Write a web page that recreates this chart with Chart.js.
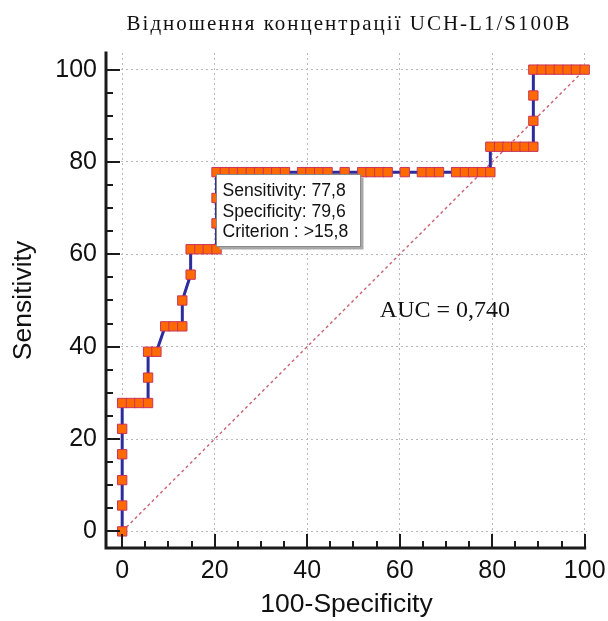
<!DOCTYPE html>
<html>
<head>
<meta charset="utf-8">
<script src="https://cdn.jsdelivr.net/npm/chart.js@4.4.1/dist/chart.umd.min.js"></script>
<style>
  html, body { margin: 0; padding: 0; background: #fff; }
</style>
</head>
<body>
<canvas id="chart" width="608" height="621"></canvas>
<script>
// ROC curve: 100-Specificity (x) and Sensitivity (y)
var specComplement = [0, 0, 0, 0, 0, 0,
  1.9, 3.7, 5.6, 5.6, 5.6, 7.4,
  9.3, 11.1, 13.0, 13.0, 14.8, 14.8, 16.7, 18.5, 20.4, 20.4, 20.4, 20.4,
  22.2, 24.1, 25.9, 27.8, 29.6, 31.5, 33.3, 35.2,
  38.9, 40.7, 42.6, 44.4,
  48.1,
  51.9, 53.7, 55.6, 57.4,
  61.1,
  64.8, 66.7, 68.5,
  72.2, 74.1, 75.9, 77.8, 79.6,
  79.6, 81.5, 83.3, 85.2, 87.0, 88.9,
  88.9, 88.9, 88.9, 90.7, 92.6, 94.4, 96.3, 98.1, 100];
var sensitivity = [0, 5.6, 11.1, 16.7, 22.2, 27.8,
  27.8, 27.8, 27.8, 33.3, 38.9, 38.9,
  44.4, 44.4, 44.4, 50.0, 55.6, 61.1, 61.1, 61.1, 61.1, 66.7, 72.2, 77.8,
  77.8, 77.8, 77.8, 77.8, 77.8, 77.8, 77.8, 77.8,
  77.8, 77.8, 77.8, 77.8,
  77.8,
  77.8, 77.8, 77.8, 77.8,
  77.8,
  77.8, 77.8, 77.8,
  77.8, 77.8, 77.8, 77.8, 77.8,
  83.3, 83.3, 83.3, 83.3, 83.3, 83.3,
  88.9, 94.4, 100, 100, 100, 100, 100, 100, 100];

// reference diagonal
var diagX = [0, 100];
var diagY = [0, 100];

var xTickValues = [0, 20, 40, 60, 80, 100];
var yTickValues = [0, 20, 40, 60, 80, 100];

var chartTitle = "Відношення концентрації UCH-L1/S100B";
var xTitle = "100-Specificity";
var yTitle = "Sensitivity";

// optimal criterion box
var cutoff = { x: 20.4, y: 77.8 };
var cutoffLines = ["Sensitivity: 77,8", "Specificity: 79,6", "Criterion : >15,8"];
var aucText = "AUC = 0,740";
var aucPos = { x: 55.7, y: 46.4 };

function toPoints(xs, ys) {
  return xs.map(function(v, i) { return { x: v, y: ys[i] }; });
}

var SANS = '"Liberation Sans", Arial, sans-serif';
var SERIF = '"Liberation Serif", "Times New Roman", serif';

var decor = {
  id: 'decor',
  beforeDraw: function(chart) {
    var ctx = chart.ctx;
    ctx.save();
    ctx.fillStyle = '#fff';
    ctx.fillRect(0, 0, chart.width, chart.height);
    ctx.restore();
  },
  afterDatasetsDraw: function(chart) {
    var ctx = chart.ctx, xs = chart.scales.x, ys = chart.scales.y;

    // criterion box
    var px = xs.getPixelForValue(cutoff.x), py = ys.getPixelForValue(cutoff.y);
    var left = Math.round(px) - 0.5, top = Math.round(py) + 2.5, w = 144, h = 72;
    ctx.save();
    ctx.fillStyle = '#a8a8a8';
    ctx.fillRect(left + 3, top + 3, w, h);
    ctx.fillStyle = '#fff';
    ctx.fillRect(left, top, w, h);
    ctx.strokeStyle = '#8a8a8a';
    ctx.lineWidth = 1;
    ctx.strokeRect(left, top, w, h);
    ctx.fillStyle = '#111';
    ctx.font = '17.6px ' + SANS;
    ctx.textBaseline = 'alphabetic';
    cutoffLines.forEach(function(t, i) {
      ctx.fillText(t, left + 6, top + 21.5 + i * 20.5);
    });

    // AUC
    ctx.font = '24px ' + SERIF;
    ctx.fillText(aucText, xs.getPixelForValue(aucPos.x), ys.getPixelForValue(aucPos.y));
    ctx.restore();
  },
  afterDraw: function(chart) {
    var ctx = chart.ctx, xs = chart.scales.x, ys = chart.scales.y, a = chart.chartArea;
    ctx.save();
    ctx.strokeStyle = '#1b1b1b';

    // ticks, pointing into the plot
    ctx.lineWidth = 2;
    var v, p, len;
    for (v = 0; v <= 100; v += 5) {
      len = v % 20 === 0 ? 14 : 7;
      p = Math.round(xs.getPixelForValue(v));
      ctx.beginPath();
      ctx.moveTo(p, a.bottom);
      ctx.lineTo(p, a.bottom - len);
      ctx.stroke();
      p = Math.round(ys.getPixelForValue(v));
      ctx.beginPath();
      ctx.moveTo(a.left, p);
      ctx.lineTo(a.left + len, p);
      ctx.stroke();
    }

    // axis lines
    ctx.lineWidth = 3;
    ctx.lineCap = 'square';
    ctx.beginPath();
    ctx.moveTo(a.left, a.top);
    ctx.lineTo(a.left, a.bottom);
    ctx.lineTo(xs.getPixelForValue(100), a.bottom);
    ctx.stroke();

    // title
    ctx.fillStyle = '#111';
    ctx.font = '21px ' + SERIF;
    ctx.textAlign = 'center';
    ctx.letterSpacing = '2px';
    ctx.fillText(chartTitle, 349, 30);
    ctx.restore();
  }
};

var ctx = document.getElementById('chart').getContext('2d');
var chart = new Chart(ctx, {
  type: 'scatter',
  data: {
    datasets: [{
      label: 'ROC',
      data: toPoints(specComplement, sensitivity),
      showLine: true,
      clip: false,
      borderColor: '#2c2c9c',
      borderWidth: 3,
      pointStyle: 'rect',
      pointRadius: 6.6,
      pointBackgroundColor: '#ff6a00',
      pointBorderColor: '#c8345e',
      pointBorderWidth: 1,
      order: 1
    }, {
      label: 'diagonal',
      data: toPoints(diagX, diagY),
      showLine: true,
      borderColor: '#cc6070',
      borderWidth: 1.4,
      borderDash: [3, 3],
      pointRadius: 0,
      order: 2
    }]
  },
  options: {
    responsive: false,
    animation: false,
    layout: { padding: { top: 53, right: 21, bottom: 0, left: 0 } },
    plugins: {
      legend: { display: false },
      tooltip: { enabled: false },
      title: { display: false }
    },
    scales: {
      x: {
        type: 'linear',
        min: -3.5,
        max: 100.5,
        afterBuildTicks: function(s) { s.ticks = xTickValues.map(function(v) { return { value: v }; }); },
        afterFit: function(s) { s.height = 73; s.paddingLeft = 0; s.paddingRight = 0; },
        grid: { color: '#b8b8b8', lineWidth: 1, drawTicks: false },
        border: { display: false, dash: [2, 3] },
        ticks: { color: '#111', font: { family: SANS, size: 25 }, padding: 8 },
        title: { display: true, text: xTitle, color: '#111', font: { family: SANS, size: 26.5 }, padding: { top: 0, bottom: 0 } }
      },
      y: {
        type: 'linear',
        min: -3.6,
        max: 103.6,
        afterBuildTicks: function(s) { s.ticks = yTickValues.map(function(v) { return { value: v }; }); },
        afterFit: function(s) { s.width = 106; s.paddingTop = 0; s.paddingBottom = 0; },
        grid: { color: '#b8b8b8', lineWidth: 1, drawTicks: false },
        border: { display: false, dash: [2, 3] },
        ticks: { color: '#111', font: { family: SANS, size: 25 }, padding: 9 },
        title: { display: true, text: yTitle, color: '#111', font: { family: SANS, size: 26.5 }, padding: { top: 8, bottom: 0 } }
      }
    }
  },
  plugins: [decor]
});
</script>
</body>
</html>
